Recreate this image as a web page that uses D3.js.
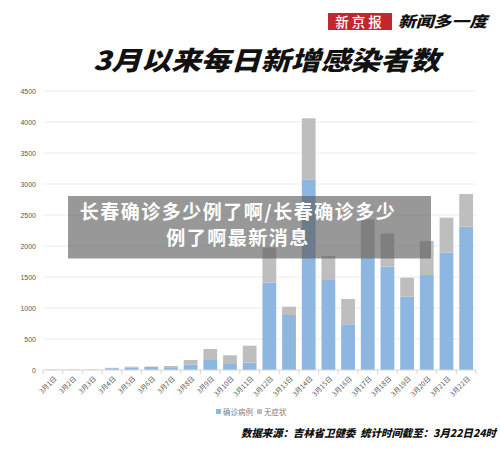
<!DOCTYPE html>
<html>
<head>
<meta charset="utf-8">
<script src="https://cdn.jsdelivr.net/npm/d3@7/dist/d3.min.js"></script>
<style>
  html, body { margin: 0; padding: 0; background: #fff; }
  svg { display: block; font-family: "Noto Sans CJK SC", "Noto Sans", sans-serif; }
</style>
</head>
<body>
<svg id="chart" width="500" height="456"></svg>
<script>
// daily new cases in Jilin, March 1-22
const dates = [
  "3月1日", "3月2日", "3月3日", "3月4日", "3月5日", "3月6日", "3月7日", "3月8日",
  "3月9日", "3月10日", "3月11日", "3月12日", "3月13日", "3月14日", "3月15日",
  "3月16日", "3月17日", "3月18日", "3月19日", "3月20日", "3月21日", "3月22日",
];
const confirmed = [2, 3, 3, 29, 40, 50, 45, 86, 161, 97, 118, 1412, 887, 3076, 1452, 737, 1817, 1666, 1183, 1532, 1892, 2311];
const asymptomatic = [6, 5, 6, 6, 14, 5, 20, 75, 178, 140, 274, 564, 134, 984, 387, 408, 613, 538, 306, 550, 565, 528];
const yTicks = [0, 500, 1000, 1500, 2000, 2500, 3000, 3500, 4000, 4500];
const seriesNames = ["确诊病例", "无症状"];
const seriesColors = ["#8db6e1", "#bebebe"];

const svg = d3.select("#chart");

// header: logo + title
const logo = svg.append("g");
logo.append("rect").attr("x", 328).attr("y", 13).attr("width", 64).attr("height", 17).attr("fill", "#c3272e");
logo.append("text")
  .attr("x", 360).attr("y", 26.5)
  .attr("text-anchor", "middle")
  .attr("fill", "#fff")
  .attr("font-size", 13.5)
  .attr("font-weight", 500)
  .attr("letter-spacing", 3)
  .text("新京报");
logo.append("text")
  .attr("x", 398).attr("y", 27)
  .attr("fill", "#111")
  .attr("font-size", 15)
  .attr("font-weight", 900)
  .attr("font-style", "italic")
  .attr("textLength", 89)
  .attr("lengthAdjust", "spacingAndGlyphs")
  .text("新闻多一度");

svg.append("text")
  .attr("x", 93).attr("y", 70)
  .attr("fill", "#111")
  .attr("font-size", 26)
  .attr("font-weight", 900)
  .attr("font-style", "italic")
  .attr("textLength", 347)
  .attr("lengthAdjust", "spacingAndGlyphs")
  .text("3月以来每日新增感染者数");

// chart
const x = d3.scaleBand().domain(dates).range([43, 476]).paddingInner(0.3).paddingOuter(0.15);
const y = d3.scaleLinear().domain([0, 4500]).range([370, 91]);

const grid = svg.append("g");
grid.selectAll("line")
  .data(yTicks.slice(1))
  .join("line")
  .attr("x1", 43).attr("x2", 476)
  .attr("y1", (d) => y(d)).attr("y2", (d) => y(d))
  .attr("stroke", "#ececec")
  .attr("stroke-width", 1);

const yAxis = svg.append("g")
  .attr("transform", "translate(43,0)")
  .call(d3.axisLeft(y).tickValues(yTicks).tickFormat(d3.format("d")).tickSize(0).tickPadding(7));
yAxis.select(".domain").remove();
yAxis.selectAll("text")
  .attr("fill", "#595959")
  .attr("font-size", 7)
  .attr("font-family", "Liberation Sans, sans-serif");

const stackData = dates.map((d, i) => ({ date: d, c: confirmed[i], a: asymptomatic[i] }));
const stacked = d3.stack().keys(["c", "a"])(stackData);

svg.append("g")
  .selectAll("g")
  .data(stacked)
  .join("g")
  .attr("fill", (_, i) => seriesColors[i])
  .selectAll("rect")
  .data((s) => s)
  .join("rect")
  .attr("x", (d) => x(d.data.date))
  .attr("width", x.bandwidth())
  .attr("y", (d) => y(d[1]))
  .attr("height", (d) => y(d[0]) - y(d[1]));

// x axis with ticks between categories
const step = x.step();
const xAxis = svg.append("g").attr("transform", "translate(0,370)");
xAxis.append("line").attr("x1", 43).attr("x2", 476).attr("stroke", "#d6d6d6");
xAxis.selectAll("line.tk")
  .data(d3.range(dates.length + 1))
  .join("line")
  .attr("class", "tk")
  .attr("x1", (i) => 43 + i * step).attr("x2", (i) => 43 + i * step)
  .attr("y1", 0).attr("y2", 4)
  .attr("stroke", "#d6d6d6");
xAxis.selectAll("text")
  .data(dates)
  .join("text")
  .attr("transform", (d) => `translate(${x(d) + x.bandwidth() / 2 + 3},${8}) rotate(-45)`)
  .attr("text-anchor", "end")
  .attr("dominant-baseline", "middle")
  .attr("fill", "#595959")
  .attr("font-size", 6.8)
  .text((d) => d);

// legend
const legend = svg.append("g").attr("transform", "translate(216,412)");
const legendX = [0, 41];
seriesNames.forEach((name, i) => {
  legend.append("rect").attr("x", legendX[i]).attr("y", -3).attr("width", 5).attr("height", 5).attr("fill", seriesColors[i]);
  legend.append("text")
    .attr("x", legendX[i] + 7).attr("y", 2.5)
    .attr("fill", "#7f7f7f")
    .attr("font-size", 7.5)
    .text(name);
});

// source footer
svg.append("text")
  .attr("x", 241).attr("y", 437)
  .attr("fill", "#111")
  .attr("font-size", 10.5)
  .attr("font-weight", 900)
  .attr("font-style", "italic")
  .attr("textLength", 255)
  .attr("lengthAdjust", "spacingAndGlyphs")
  .attr("xml:space", "preserve")
  .text("数据来源：吉林省卫健委  统计时间截至：3月22日24时");

// watermark caption box over the chart
svg.append("rect")
  .attr("x", 68).attr("y", 196)
  .attr("width", 363).attr("height", 62.5)
  .attr("fill", "rgba(88,88,88,0.62)");
const caption = ["长春确诊多少例了啊/长春确诊多少", "例了啊最新消息"];
svg.append("g")
  .selectAll("text")
  .data(caption)
  .join("text")
  .attr("x", 238)
  .attr("y", (_, i) => 219 + i * 26)
  .attr("text-anchor", "middle")
  .attr("fill", "#fff")
  .attr("font-size", 19)
  .attr("font-weight", 700)
  .attr("letter-spacing", 1.5)
  .text((d) => d);
</script>
</body>
</html>
